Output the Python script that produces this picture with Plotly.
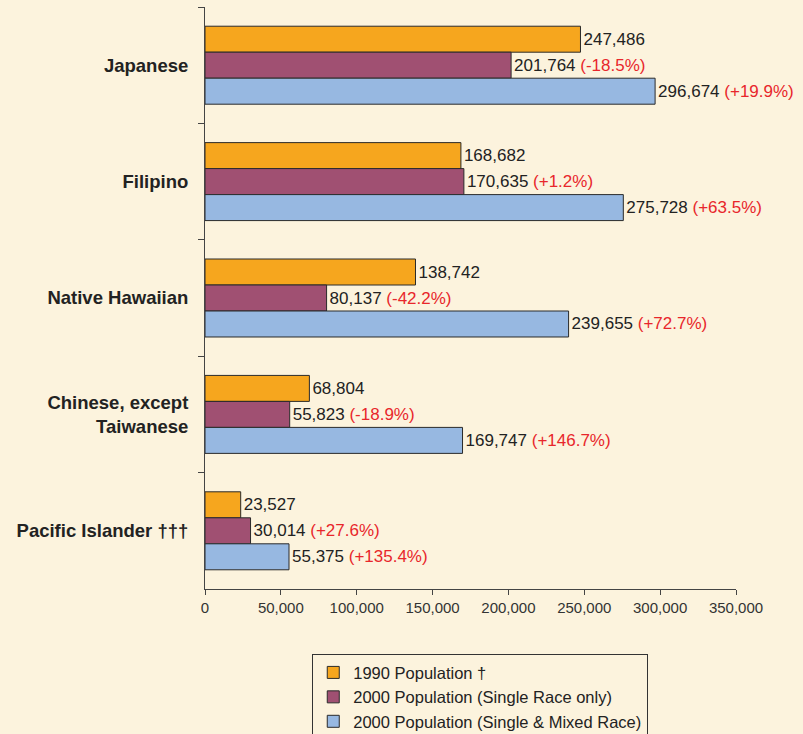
import plotly.graph_objects as go

categories = ["Japanese", "Filipino", "Native Hawaiian", "Chinese, except<br>Taiwanese", "Pacific Islander †††"]
pop_1990 = [247486, 168682, 138742, 68804, 23527]
pop_2000_single = [201764, 170635, 80137, 55823, 30014]
pop_2000_mixed = [296674, 275728, 239655, 169747, 55375]
pct_single = ["-18.5%", "+1.2%", "-42.2%", "-18.9%", "+27.6%"]
pct_mixed = ["+19.9%", "+63.5%", "+72.7%", "+146.7%", "+135.4%"]
x_ticks = [0, 50000, 100000, 150000, 200000, 250000, 300000, 350000]

BG = "#FCF3DD"
RED = "#E8262B"
cat_labels = ["<b>%s</b>" % c for c in categories]

def lab(vals, pcts=None):
    out = []
    for i, v in enumerate(vals):
        s = "{:,}".format(v)
        if pcts:
            s += ' <span style="color:%s">(%s)</span>' % (RED, pcts[i])
        out.append(s)
    return out

fig = go.Figure()
series = [
    ("1990 Population †", pop_1990, None, "#F6A61E"),
    ("2000 Population (Single Race only)", pop_2000_single, pct_single, "#A05072"),
    ("2000 Population (Single & Mixed Race)", pop_2000_mixed, pct_mixed, "#97B8E1"),
]
for name, vals, pcts, col in series:
    fig.add_trace(go.Bar(
        y=cat_labels, x=vals, orientation="h", name=name,
        marker=dict(color=col, line=dict(color="#2a2a2a", width=1)),
        text=lab(vals, pcts), textposition="outside", cliponaxis=False,
        constraintext="none",
        textfont=dict(family="Liberation Sans, Arial", size=17, color="#222"),
    ))

fig.update_layout(
    width=803, height=734,
    barmode="group", bargap=0.33, bargroupgap=0,
    paper_bgcolor=BG, plot_bgcolor=BG,
    margin=dict(l=205, r=67, t=7, b=145, autoexpand=False),
    font=dict(family="Liberation Sans, Arial", color="#222"),
    xaxis=dict(range=[0, 350000], tickvals=x_ticks,
               ticktext=["{:,}".format(t) for t in x_ticks],
               showgrid=False, zeroline=False, showline=True, linecolor="#444",
               ticks="outside", ticklen=5, tickcolor="#444",
               tickfont=dict(size=15, color="#333")),
    yaxis=dict(autorange="reversed", showgrid=False, showline=True, linecolor="#444",
               ticks="outside", ticklen=6, tickcolor="#444", tickson="boundaries",
               tickfont=dict(size=18.5, color="#222"), ticklabelstandoff=12),
    legend=dict(x=0.202, y=-0.112, xanchor="left", yanchor="top",
                bgcolor=BG, bordercolor="#333", borderwidth=1,
                font=dict(size=16.5, color="#222"), tracegroupgap=0, itemwidth=30),
    showlegend=True,
)
fig.write_html("out.html")
